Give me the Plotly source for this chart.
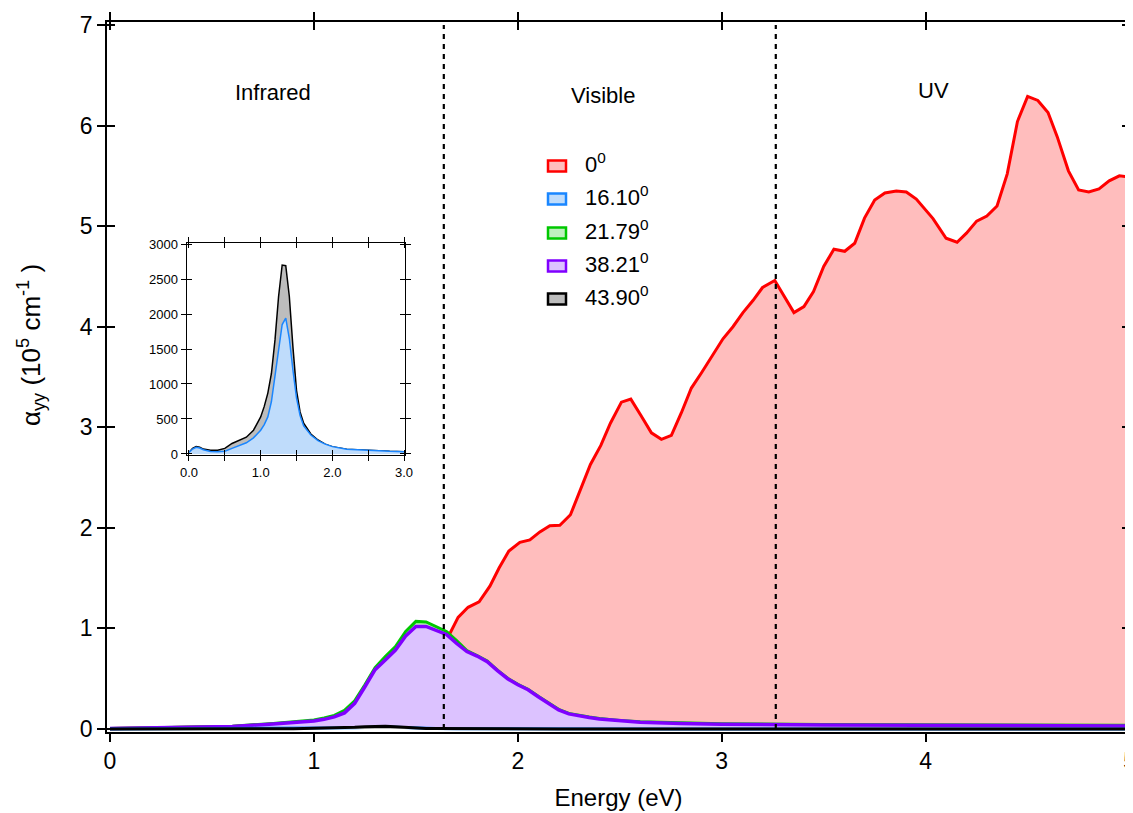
import plotly.graph_objects as go

# ---------------- data ----------------
# 0 deg (red)
E_red = [0.0, 0.2, 0.4, 0.6, 0.8, 0.9, 1.0, 1.05, 1.1, 1.15, 1.2, 1.25, 1.3, 1.35, 1.4, 1.45, 1.5,
         1.55, 1.6, 1.667, 1.707, 1.756, 1.81, 1.863, 1.908, 1.956, 2.01, 2.059, 2.108, 2.157,
         2.206, 2.258, 2.304, 2.356, 2.407, 2.454, 2.508, 2.554, 2.606, 2.655, 2.704, 2.753,
         2.802, 2.851, 2.90, 2.957, 3.006, 3.055, 3.104, 3.153, 3.20, 3.26, 3.305, 3.354, 3.403,
         3.45, 3.50, 3.55, 3.603, 3.652, 3.70, 3.75, 3.80, 3.856, 3.905, 3.954, 4.036, 4.10,
         4.154, 4.20, 4.25, 4.30, 4.35, 4.40, 4.45, 4.50, 4.55, 4.60, 4.645, 4.70, 4.75, 4.80,
         4.85, 4.90, 4.95, 5.0]
alpha_red = [0.005, 0.01, 0.015, 0.025, 0.05, 0.063, 0.08, 0.096, 0.12, 0.16, 0.255, 0.42, 0.59,
             0.685, 0.785, 0.925, 1.02, 1.02, 0.98, 0.95, 1.11, 1.21, 1.265, 1.42, 1.60, 1.77,
             1.856, 1.88, 1.96, 2.02, 2.025, 2.13, 2.36, 2.63, 2.82, 3.04, 3.25, 3.28, 3.11,
             2.945, 2.88, 2.92, 3.145, 3.39, 3.54, 3.73, 3.88, 4.0, 4.14, 4.26, 4.39, 4.46, 4.31,
             4.14, 4.20, 4.35, 4.60, 4.77, 4.75, 4.83, 5.08, 5.26, 5.33, 5.35, 5.34, 5.27, 5.075,
             4.88, 4.84, 4.93, 5.05, 5.10, 5.20, 5.52, 6.04, 6.29, 6.25, 6.13, 5.89, 5.55, 5.36,
             5.34, 5.37, 5.45, 5.50, 5.49]

# 21.79 deg (green) and 38.21 deg (purple)
E_mid = [0.0, 0.2, 0.4, 0.6, 0.8, 0.9, 1.0, 1.05, 1.1, 1.15, 1.2, 1.25, 1.3, 1.35, 1.4, 1.45, 1.5,
         1.55, 1.6, 1.65, 1.7, 1.75, 1.8, 1.85, 1.9, 1.95, 2.0, 2.05, 2.1, 2.15, 2.2, 2.25, 2.3,
         2.35, 2.4, 2.5, 2.6, 2.8, 3.0, 3.5, 4.0, 4.5, 5.0]
alpha_green = [0.006, 0.012, 0.018, 0.028, 0.055, 0.07, 0.09, 0.11, 0.135, 0.185, 0.28, 0.44,
               0.61, 0.72, 0.82, 0.97, 1.07, 1.065, 1.02, 0.97, 0.88, 0.78, 0.73, 0.675, 0.585,
               0.505, 0.445, 0.395, 0.325, 0.26, 0.195, 0.155, 0.135, 0.12, 0.105, 0.085, 0.073,
               0.06, 0.052, 0.045, 0.04, 0.038, 0.036]
alpha_purple = [0.005, 0.01, 0.015, 0.025, 0.05, 0.063, 0.08, 0.096, 0.12, 0.16, 0.255, 0.42,
                0.59, 0.685, 0.785, 0.925, 1.02, 1.02, 0.98, 0.94, 0.85, 0.77, 0.725, 0.67, 0.58,
                0.50, 0.44, 0.39, 0.32, 0.255, 0.19, 0.15, 0.13, 0.115, 0.10, 0.08, 0.068, 0.055,
                0.047, 0.04, 0.035, 0.032, 0.03]

# 16.10 deg (blue) and 43.90 deg (black), in cm^-1 (inset units)
E_low = [0.0, 0.05, 0.1, 0.15, 0.2, 0.3, 0.4, 0.5, 0.6, 0.7, 0.8, 0.9, 1.0, 1.05, 1.1, 1.15, 1.2,
         1.25, 1.3, 1.35, 1.4, 1.45, 1.5, 1.55, 1.6, 1.7, 1.8, 1.9, 2.0, 2.2, 2.5, 2.8, 3.0, 3.5,
         4.0, 4.5, 5.0]
alpha_black = [20, 80, 105, 95, 70, 52, 52, 80, 150, 190, 240, 340, 530, 680, 870, 1150, 1630,
               2250, 2700, 2690, 2250, 1530, 910, 600, 440, 285, 200, 140, 105, 67, 48, 38, 33,
               28, 25, 22, 20]
alpha_blue = [20, 70, 95, 85, 60, 35, 30, 40, 80, 120, 160, 230, 340, 420, 530, 750, 1120, 1500,
              1850, 1940, 1650, 1200, 800, 550, 400, 270, 190, 140, 105, 67, 48, 38, 33, 28, 25,
              22, 20]
CM_TO_1E5 = 1e-5

series_names = ["0<sup>0</sup>", "16.10<sup>0</sup>", "21.79<sup>0</sup>",
                "38.21<sup>0</sup>", "43.90<sup>0</sup>"]
region_bounds = [1.637, 3.265]
region_labels = ["Infrared", "Visible", "UV"]
region_label_x = [0.80, 2.42, 4.04]
region_label_y = [6.33, 6.30, 6.35]

main_xticks = [0, 1, 2, 3, 4, 5]
main_yticks = [0, 1, 2, 3, 4, 5, 6, 7]
inset_xticks = [0.0, 1.0, 2.0, 3.0]
inset_xticktext = ["0.0", "1.0", "2.0", "3.0"]
inset_xminor = [0.5, 1.5, 2.5]
inset_yticks = [0, 500, 1000, 1500, 2000, 2500, 3000]

# ---------------- style ----------------
FONT = "Liberation Sans, Arial, sans-serif"
line_cols = ["#ff0000", "#1a86ff", "#00c800", "#8000ff", "#000000"]
fill_cols = ["#ffbdbd", "#bfdcfb", "#bff0bf", "#dcc2ff", "#bdbdbd"]

PAGE_OFF = 8            # page body margin of the html page
W, H = 1125, 805
L, R, T, B = 99, 3, 14, 81
PW, PH = W - L - R, H - T - B


def px2paper_x(px):
    return (px - PAGE_OFF - L) / PW


def px2paper_y(py):
    return (H - B - (py - PAGE_OFF)) / PH


fig = go.Figure()

# main traces
main_series = [
    (E_red, alpha_red, 0, 3),
    (E_mid, alpha_green, 2, 3),
    (E_mid, alpha_purple, 3, 3.5),
    (E_low, [v * CM_TO_1E5 for v in alpha_blue], 1, 3),
    (E_low, [v * CM_TO_1E5 for v in alpha_black], 4, 3),
]
for xs, ys, k, lw in main_series:
    fig.add_trace(go.Scatter(x=xs, y=ys, mode="lines", fill="tozeroy",
                             line=dict(color=line_cols[k], width=lw),
                             fillcolor=fill_cols[k], name=series_names[k],
                             showlegend=False, xaxis="x", yaxis="y"))

# inset traces
fig.add_trace(go.Scatter(x=E_low, y=alpha_black, mode="lines", fill="tozeroy",
                         line=dict(color=line_cols[4], width=1.5), fillcolor=fill_cols[4],
                         showlegend=False, xaxis="x4", yaxis="y4"))
fig.add_trace(go.Scatter(x=E_low, y=alpha_blue, mode="lines", fill="tozeroy",
                         line=dict(color=line_cols[1], width=1.5), fillcolor=fill_cols[1],
                         showlegend=False, xaxis="x4", yaxis="y4"))

# empty helper traces so the overlay axes (used for crossing ticks) are rendered
for xa, ya in [("x2", "y"), ("x", "y2"), ("x5", "y4"), ("x4", "y5")]:
    fig.add_trace(go.Scatter(x=[None], y=[None], mode="lines", showlegend=False,
                             hoverinfo="skip", xaxis=xa, yaxis=ya))

# region dividers
for xb in region_bounds:
    fig.add_shape(type="line", xref="x", yref="y", x0=xb, x1=xb, y0=0, y1=7.0,
                  line=dict(color="black", width=2.2, dash="5px,5px"), layer="above")

# region labels
for txt, xl, yl in zip(region_labels, region_label_x, region_label_y):
    fig.add_annotation(x=xl, y=yl, xref="x", yref="y", text=txt, showarrow=False,
                       font=dict(family=FONT, size=22, color="black"))

# custom legend
leg_rows = [166, 199, 233, 266, 299]
for i, py in enumerate(leg_rows):
    fig.add_shape(type="rect", xref="paper", yref="paper",
                  x0=px2paper_x(548), x1=px2paper_x(566),
                  y0=px2paper_y(py + 5.5), y1=px2paper_y(py - 5.5),
                  line=dict(color=line_cols[i], width=2.5), fillcolor=fill_cols[i])
    fig.add_annotation(x=px2paper_x(583), y=px2paper_y(py - 3), xref="paper", yref="paper",
                       text=series_names[i], showarrow=False, xanchor="left", yanchor="middle",
                       font=dict(family=FONT, size=22, color="black"))

# y-axis title (placed as rotated text, as in the reference)
fig.add_annotation(x=px2paper_x(31), y=px2paper_y(345), xref="paper", yref="paper",
                   text="α<sub>yy</sub> (10<sup>5</sup> cm<sup>-1</sup> )", textangle=-90,
                   showarrow=False, xanchor="center", yanchor="middle",
                   font=dict(family=FONT, size=26, color="black"))

axis_common = dict(color="black", linecolor="black", tickcolor="black", showgrid=False,
                   zeroline=False)

xr = [-0.0147, 5.002]
yr = [-0.03, 7.03]
ixr = [-0.032, 3.018]
iyr = [-19, 3019]
inset_dom_x = [px2paper_x(186.7), px2paper_x(405.3)]
inset_dom_y = [px2paper_y(455.3), px2paper_y(242.7)]

fig.update_layout(
    width=W, height=H,
    margin=dict(l=L, r=R, t=T, b=B, autoexpand=False),
    paper_bgcolor="white", plot_bgcolor="rgba(0,0,0,0)",
    font=dict(family=FONT, color="black"),
    showlegend=False,
    xaxis=dict(**axis_common, range=xr, tickvals=main_xticks, ticks="outside", ticklen=8,
               tickwidth=1.5, showline=True, linewidth=1.5, mirror="ticks",
               ticklabeloverflow="allow",
               tickfont=dict(size=23), title=dict(text="Energy (eV)", font=dict(size=24),
                                                  standoff=16)),
    xaxis2=dict(**axis_common, range=xr, tickvals=main_xticks, overlaying="x", anchor="y",
                side="top", ticks="inside", ticklen=8, tickwidth=1.5, showline=False,
                showticklabels=False),
    yaxis=dict(**axis_common, range=yr, tickvals=main_yticks, ticks="outside", ticklen=8,
               tickwidth=1.5, showline=True, linewidth=1.5, mirror=False,
               tickfont=dict(size=23)),
    yaxis2=dict(**axis_common, range=yr, tickvals=main_yticks, overlaying="y", anchor="x",
                side="left", ticks="inside", ticklen=8, tickwidth=1.5, showline=False,
                mirror="ticks", showticklabels=False),
    xaxis4=dict(**axis_common, domain=inset_dom_x, anchor="y4", range=ixr,
                tickvals=inset_xticks, ticktext=inset_xticktext, ticks="outside", ticklen=5,
                tickwidth=1.2, showline=True, linewidth=1.2, mirror="ticks",
                tickfont=dict(size=13),
                minor=dict(tickvals=inset_xminor, ticks="outside", ticklen=5, tickwidth=1.2,
                           tickcolor="black", showgrid=False)),
    xaxis5=dict(**axis_common, overlaying="x4", anchor="y4", range=ixr,
                tickvals=inset_xticks, ticks="inside", ticklen=5, tickwidth=1.2,
                showline=False, mirror="ticks", showticklabels=False,
                minor=dict(tickvals=inset_xminor, ticks="inside", ticklen=5, tickwidth=1.2,
                           tickcolor="black", showgrid=False)),
    yaxis4=dict(**axis_common, domain=inset_dom_y, anchor="x4", range=iyr,
                tickvals=inset_yticks, ticks="outside", ticklen=5, tickwidth=1.2,
                showline=True, linewidth=1.2, mirror="ticks", tickfont=dict(size=13)),
    yaxis5=dict(**axis_common, overlaying="y4", anchor="x4", range=iyr,
                tickvals=inset_yticks, ticks="inside", ticklen=5, tickwidth=1.2,
                showline=False, mirror="ticks", showticklabels=False),
)

fig.write_html("out.html")
